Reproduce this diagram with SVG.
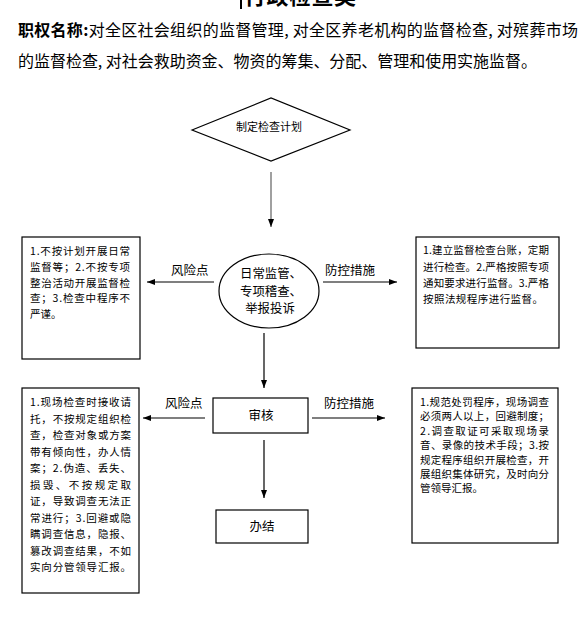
<svg xmlns="http://www.w3.org/2000/svg" width="583" height="619" viewBox="0 0 583 619">
<style>
  .t { font-family: "Noto Sans CJK SC", "Liberation Sans", sans-serif; fill: #000; }
  .hd { font-size: 16px; }
  .bx { font-size: 10.5px; }
  .lb { font-size: 12.5px; }
  .el { font-size: 12.4px; }
  .shape { fill: #fff; stroke: #000; stroke-width: 1.2; }
  .con { stroke: #000; stroke-width: 1.2; fill: none; }
</style>
<defs>
  <marker id="ah" markerWidth="8" markerHeight="6" refX="8" refY="3" orient="auto" markerUnits="userSpaceOnUse">
    <path d="M0,0 L8,3 L0,6 z" fill="#000"/>
  </marker>
</defs>
<rect width="583" height="619" fill="#fff"/>

<g id="title">
  <rect x="240" y="0" width="2" height="9" fill="#000"/>
  <text class="t" x="244" y="4" font-size="22" font-weight="bold" textLength="112">行政检查类</text>
</g>

<g id="header">
  <text class="t hd" x="18" y="36" textLength="560" lengthAdjust="spacing"><tspan font-weight="bold">职权名称:</tspan>对全区社会组织的监督管理, 对全区养老机构的监督检查, 对殡葬市场</text>
  <text class="t hd" x="18" y="67" textLength="519" lengthAdjust="spacing">的监督检查, 对社会救助资金、物资的筹集、分配、管理和使用实施监督。</text>
</g>

<g id="connectors">
  <line x1="271" y1="172" x2="271" y2="227" stroke="#808080" stroke-width="1.5" marker-end="url(#ah)"/>
  <line class="con" x1="214" y1="282" x2="147" y2="282" marker-end="url(#ah)"/>
  <line class="con" x1="323" y1="282" x2="397" y2="282" marker-end="url(#ah)"/>
  <line class="con" x1="264" y1="333" x2="264" y2="388" marker-end="url(#ah)"/>
  <line class="con" x1="205" y1="418" x2="143" y2="418" marker-end="url(#ah)"/>
  <line class="con" x1="312" y1="418" x2="385" y2="418" marker-end="url(#ah)"/>
  <line class="con" x1="264" y1="440" x2="264" y2="498" marker-end="url(#ah)"/>
  <text class="t lb" x="171" y="275">风险点</text>
  <text class="t lb" x="325" y="275">防控措施</text>
  <text class="t lb" x="165" y="408">风险点</text>
  <text class="t lb" x="324" y="408">防控措施</text>
</g>

<g id="plan">
  <polygon class="shape" points="192,130 271,98 350,130 271,161"/>
  <text class="t" x="269" y="131" font-size="11" text-anchor="middle">制定检查计划</text>
</g>

<g id="daily">
  <ellipse class="shape" cx="269" cy="291" rx="50" ry="37"/>
  <text class="t el" x="271" y="277.5" text-anchor="middle">日常监管、</text>
  <text class="t el" x="271" y="295.5" text-anchor="middle">专项稽查、</text>
  <text class="t el" x="270" y="313" text-anchor="middle">举报投诉</text>
</g>

<g id="review">
  <rect class="shape" x="213" y="398" width="95" height="35"/>
  <text class="t lb" x="261" y="420" text-anchor="middle">审核</text>
</g>

<g id="close">
  <rect class="shape" x="216" y="510" width="92" height="33"/>
  <text class="t lb" x="262" y="531" text-anchor="middle">办结</text>
</g>

<g id="risk1">
  <rect class="shape" x="22" y="237" width="118" height="122"/>
  <text class="t bx" x="30" y="255" textLength="100" lengthAdjust="spacing">1.不按计划开展日常</text>
  <text class="t bx" x="30" y="271" textLength="100" lengthAdjust="spacing">监督等；2.不按专项</text>
  <text class="t bx" x="30" y="287" textLength="100" lengthAdjust="spacing">整治活动开展监督检</text>
  <text class="t bx" x="30" y="302" textLength="100" lengthAdjust="spacing">查；3.检查中程序不</text>
  <text class="t bx" x="30" y="318">严谨。</text>
</g>

<g id="control1">
  <rect class="shape" x="416" y="237" width="143" height="111"/>
  <text class="t bx" x="423" y="254" textLength="126" lengthAdjust="spacing">1.建立监督检查台账，定期</text>
  <text class="t bx" x="423" y="270.5" textLength="126" lengthAdjust="spacing">进行检查。2.严格按照专项</text>
  <text class="t bx" x="423" y="287" textLength="126" lengthAdjust="spacing">通知要求进行监督。3.严格</text>
  <text class="t bx" x="423" y="303" textLength="120" lengthAdjust="spacing">按照法规程序进行监督。</text>
</g>

<g id="risk2">
  <rect class="shape" x="22" y="388" width="117" height="205"/>
  <text class="t bx" x="30" y="406" textLength="101" lengthAdjust="spacing">1.现场检查时接收请</text>
  <text class="t bx" x="30" y="422.5" textLength="101" lengthAdjust="spacing">托，不按规定组织检</text>
  <text class="t bx" x="30" y="439" textLength="101" lengthAdjust="spacing">查，检查对象或方案</text>
  <text class="t bx" x="30" y="455.5" textLength="101" lengthAdjust="spacing">带有倾向性，办人情</text>
  <text class="t bx" x="30" y="472" textLength="101" lengthAdjust="spacing">案；2.伪造、丢失、</text>
  <text class="t bx" x="30" y="488.5" textLength="101" lengthAdjust="spacing">损毁、不按规定取</text>
  <text class="t bx" x="30" y="505" textLength="101" lengthAdjust="spacing">证，导致调查无法正</text>
  <text class="t bx" x="30" y="521.5" textLength="101" lengthAdjust="spacing">常进行；3.回避或隐</text>
  <text class="t bx" x="30" y="538" textLength="101" lengthAdjust="spacing">瞒调查信息，隐报、</text>
  <text class="t bx" x="30" y="554.5" textLength="101" lengthAdjust="spacing">篡改调查结果，不如</text>
  <text class="t bx" x="30" y="571" textLength="101" lengthAdjust="spacing">实向分管领导汇报。</text>
</g>

<g id="control2">
  <rect class="shape" x="412" y="388" width="146" height="155"/>
  <text class="t bx" x="420" y="406" textLength="129" lengthAdjust="spacing">1.规范处罚程序，现场调查</text>
  <text class="t bx" x="420" y="420.4" textLength="129" lengthAdjust="spacing">必须两人以上，回避制度；</text>
  <text class="t bx" x="420" y="434.8" textLength="129" lengthAdjust="spacing">2.调查取证可采取现场录</text>
  <text class="t bx" x="420" y="449.2" textLength="129" lengthAdjust="spacing">音、录像的技术手段；3.按</text>
  <text class="t bx" x="420" y="463.6" textLength="129" lengthAdjust="spacing">规定程序组织开展检查，开</text>
  <text class="t bx" x="420" y="478" textLength="129" lengthAdjust="spacing">展组织集体研究，及时向分</text>
  <text class="t bx" x="420" y="492.4">管领导汇报。</text>
</g>
</svg>
